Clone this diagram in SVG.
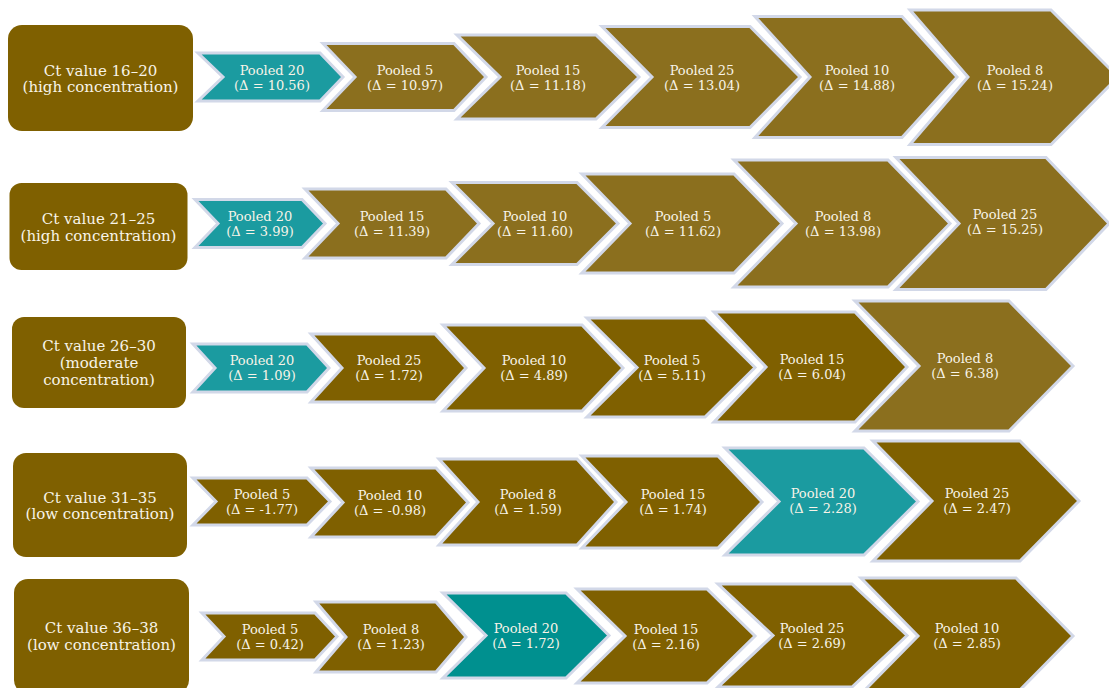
<svg xmlns="http://www.w3.org/2000/svg" width="1109" height="688" viewBox="0 0 1109 688">
<style>
.lab{fill:#7F6000}
.cv{stroke:#D2D8E8;stroke-width:3;stroke-linejoin:miter}
.lt{fill:#8B6F1E}
.dk{fill:#7F6000}
.tl{fill:#1B9BA0}
.tl2{fill:#00908F}
text{font-family:"DejaVu Serif","Liberation Serif",serif;fill:#F8F4E8;text-anchor:middle}
.lb{font-size:15px}
.ct{font-size:13px}
</style>
<rect width="1109" height="688" fill="#FFFFFF"/>
<g id="connectors"></g>

<!-- Row 1 -->
<g id="row1-label"><rect class="lab" x="8" y="25" width="185" height="106" rx="14"/>
<text class="lb" x="100.5" y="75.5">Ct value 16–20</text><text class="lb" x="100.5" y="92">(high concentration)</text></g>
<g id="r1c1"><polygon class="cv tl" points="198,53 320,53 343,77 320,101 198,101 223,77"/><text class="ct" x="272" y="74.5">Pooled 20</text><text class="ct" x="272" y="89.5">(Δ = 10.56)</text></g>
<g id="r1c2"><polygon class="cv lt" points="323,43.5 454,43.5 486,77 454,110.5 323,110.5 355,77"/><text class="ct" x="405" y="74.5">Pooled 5</text><text class="ct" x="405" y="89.5">(Δ = 10.97)</text></g>
<g id="r1c3"><polygon class="cv lt" points="457,35 596,35 639,77 596,119 457,119 500,77"/><text class="ct" x="548" y="74.5">Pooled 15</text><text class="ct" x="548" y="89.5">(Δ = 11.18)</text></g>
<g id="r1c4"><polygon class="cv lt" points="602,26.5 750,26.5 800,77 750,127.5 602,127.5 652,77"/><text class="ct" x="702" y="74.5">Pooled 25</text><text class="ct" x="702" y="89.5">(Δ = 13.04)</text></g>
<g id="r1c5"><polygon class="cv lt" points="755,16.5 902,16.5 957,77 902,137.5 755,137.5 810,77"/><text class="ct" x="857" y="74.5">Pooled 10</text><text class="ct" x="857" y="89.5">(Δ = 14.88)</text></g>
<g id="r1c6"><polygon class="cv lt" points="910,10 1051,10 1118,77 1051,144.5 910,144.5 968,77"/><text class="ct" x="1015" y="74.5">Pooled 8</text><text class="ct" x="1015" y="89.5">(Δ = 15.24)</text></g>

<!-- Row 2 -->
<g id="row2-label"><rect class="lab" x="9.5" y="183" width="178" height="87" rx="12"/>
<text class="lb" x="98.5" y="224">Ct value 21–25</text><text class="lb" x="98.5" y="240.5">(high concentration)</text></g>
<g id="r2c1"><polygon class="cv tl" points="195,199.5 302,199.5 325,223.5 302,247.5 195,247.5 218,223.5"/><text class="ct" x="260" y="221">Pooled 20</text><text class="ct" x="260" y="236">(Δ = 3.99)</text></g>
<g id="r2c2"><polygon class="cv lt" points="305,189 446,189 479,223.5 446,258 305,258 338,223.5"/><text class="ct" x="392" y="221">Pooled 15</text><text class="ct" x="392" y="236">(Δ = 11.39)</text></g>
<g id="r2c3"><polygon class="cv lt" points="452,182.5 577,182.5 618,223.5 577,264.5 452,264.5 493,223.5"/><text class="ct" x="535" y="221">Pooled 10</text><text class="ct" x="535" y="236">(Δ = 11.60)</text></g>
<g id="r2c4"><polygon class="cv lt" points="582,174 734,174 782,223.5 734,273 582,273 630,223.5"/><text class="ct" x="683" y="221">Pooled 5</text><text class="ct" x="683" y="236">(Δ = 11.62)</text></g>
<g id="r2c5"><polygon class="cv lt" points="734,160 888,160 950,223.5 888,287 734,287 796,223.5"/><text class="ct" x="843" y="221">Pooled 8</text><text class="ct" x="843" y="236">(Δ = 13.98)</text></g>
<g id="r2c6"><polygon class="cv lt" points="896,157.5 1046,157.5 1109,223.5 1046,289.5 896,289.5 959,223.5"/><text class="ct" x="1005" y="219">Pooled 25</text><text class="ct" x="1005" y="234">(Δ = 15.25)</text></g>

<!-- Row 3 -->
<g id="row3-label"><rect class="lab" x="12" y="317" width="174" height="91" rx="12"/>
<text class="lb" x="99" y="350.5">Ct value 26–30</text><text class="lb" x="99" y="367.5">(moderate</text><text class="lb" x="99" y="384.5">concentration)</text></g>
<g id="r3c1"><polygon class="cv tl" points="193,344 307,344 329,368 307,392 193,392 215,368"/><text class="ct" x="262" y="365">Pooled 20</text><text class="ct" x="262" y="380">(Δ = 1.09)</text></g>
<g id="r3c2"><polygon class="cv dk" points="311,334 435,334 466,368 435,402 311,402 342,368"/><text class="ct" x="389" y="365">Pooled 25</text><text class="ct" x="389" y="380">(Δ = 1.72)</text></g>
<g id="r3c3"><polygon class="cv dk" points="443,325 582,325 623,368 582,411 443,411 484,368"/><text class="ct" x="534" y="365">Pooled 10</text><text class="ct" x="534" y="380">(Δ = 4.89)</text></g>
<g id="r3c4"><polygon class="cv dk" points="587,318 705,318 755,367.5 705,417 587,417 637,367.5"/><text class="ct" x="672" y="364.5">Pooled 5</text><text class="ct" x="672" y="379.5">(Δ = 5.11)</text></g>
<g id="r3c5"><polygon class="cv dk" points="714,312 855,312 907,367 855,422 714,422 766,367"/><text class="ct" x="812" y="364">Pooled 15</text><text class="ct" x="812" y="379">(Δ = 6.04)</text></g>
<g id="r3c6"><polygon class="cv lt" points="855,301 1009,301 1073,366 1009,431 855,431 919,366"/><text class="ct" x="965" y="362.5">Pooled 8</text><text class="ct" x="965" y="377.5">(Δ = 6.38)</text></g>

<!-- Row 4 -->
<g id="row4-label"><rect class="lab" x="13" y="453" width="174" height="104" rx="13"/>
<text class="lb" x="100" y="502.5">Ct value 31–35</text><text class="lb" x="100" y="519">(low concentration)</text></g>
<g id="r4c1"><polygon class="cv dk" points="193,478 307,478 330,501.5 307,525 193,525 216,501.5"/><text class="ct" x="262" y="499">Pooled 5</text><text class="ct" x="262" y="514">(Δ = -1.77)</text></g>
<g id="r4c2"><polygon class="cv dk" points="311,468 436,468 468,502.5 436,537 311,537 343,502.5"/><text class="ct" x="390" y="499.5">Pooled 10</text><text class="ct" x="390" y="514.5">(Δ = -0.98)</text></g>
<g id="r4c3"><polygon class="cv dk" points="439,459 577,459 616,502 577,545 439,545 478,502"/><text class="ct" x="528" y="499">Pooled 8</text><text class="ct" x="528" y="514">(Δ = 1.59)</text></g>
<g id="r4c4"><polygon class="cv dk" points="582,456 718,456 762,502 718,548 582,548 626,502"/><text class="ct" x="673" y="499">Pooled 15</text><text class="ct" x="673" y="514">(Δ = 1.74)</text></g>
<g id="r4c5"><polygon class="cv tl" points="725,448 864,448 918,501.5 864,555 725,555 779,501.5"/><text class="ct" x="823" y="498">Pooled 20</text><text class="ct" x="823" y="513">(Δ = 2.28)</text></g>
<g id="r4c6"><polygon class="cv dk" points="873,441 1020,441 1079,501 1020,561 873,561 932,501"/><text class="ct" x="977" y="497.5">Pooled 25</text><text class="ct" x="977" y="512.5">(Δ = 2.47)</text></g>

<!-- Row 5 -->
<g id="row5-label"><rect class="lab" x="14" y="579" width="175" height="115" rx="14"/>
<text class="lb" x="101.5" y="633">Ct value 36–38</text><text class="lb" x="101.5" y="649.5">(low concentration)</text></g>
<g id="r5c1"><polygon class="cv dk" points="202,613 315,613 337,636.5 315,660 202,660 224,636.5"/><text class="ct" x="270" y="634">Pooled 5</text><text class="ct" x="270" y="649">(Δ = 0.42)</text></g>
<g id="r5c2"><polygon class="cv dk" points="316,602 436,602 466,637 436,672 316,672 346,637"/><text class="ct" x="391" y="634">Pooled 8</text><text class="ct" x="391" y="649">(Δ = 1.23)</text></g>
<g id="r5c3"><polygon class="cv tl2" points="443,593 566,593 609,635.5 566,678 443,678 486,635.5"/><text class="ct" x="526" y="633">Pooled 20</text><text class="ct" x="526" y="648">(Δ = 1.72)</text></g>
<g id="r5c4"><polygon class="cv dk" points="577,589 707,589 755,636 707,683 577,683 625,636"/><text class="ct" x="666" y="633.5">Pooled 15</text><text class="ct" x="666" y="648.5">(Δ = 2.16)</text></g>
<g id="r5c5"><polygon class="cv dk" points="718,584 852,584 907,635.5 852,687 718,687 773,635.5"/><text class="ct" x="812" y="633">Pooled 25</text><text class="ct" x="812" y="648">(Δ = 2.69)</text></g>
<g id="r5c6"><polygon class="cv dk" points="861,578 1016,578 1073,636 1016,694 861,694 918,636"/><text class="ct" x="967" y="632.5">Pooled 10</text><text class="ct" x="967" y="647.5">(Δ = 2.85)</text></g>
</svg>
